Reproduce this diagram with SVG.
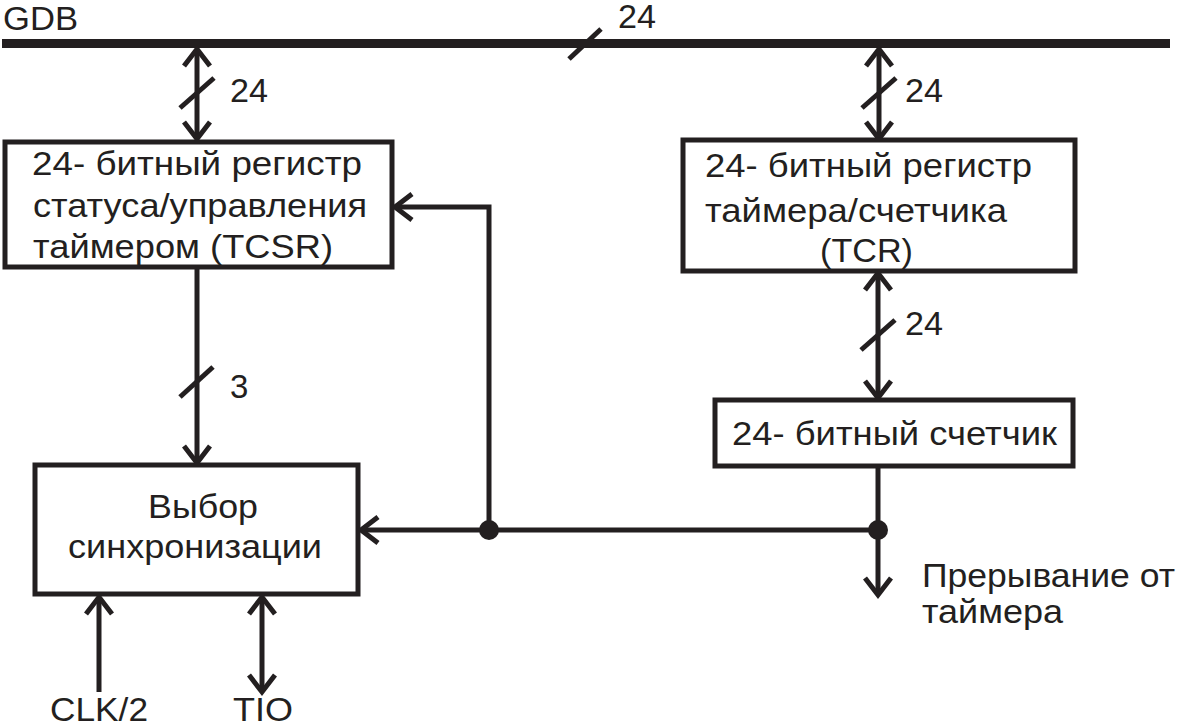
<svg xmlns="http://www.w3.org/2000/svg" width="1181" height="726" viewBox="0 0 1181 726">
<style>
.box{fill:#fff;stroke:#231f20;stroke-width:5}
.ln{fill:none;stroke:#231f20;stroke-width:5}
.t{font-family:"Liberation Sans",Arial,sans-serif;font-size:33px;fill:#231f20}
</style>
<defs>
<marker id="ah" markerUnits="userSpaceOnUse" viewBox="-22 -16 26 32" refX="0" refY="0" markerWidth="26" markerHeight="32" orient="auto-start-reverse" overflow="visible">
<path d="M-17,-13 L0,0 L-17,13" fill="none" stroke="#231f20" stroke-width="5"/>
</marker>
</defs>
<rect width="1181" height="726" fill="#fff"/>
<g id="gdb">
<line x1="2" y1="43.5" x2="1170" y2="43.5" stroke="#231f20" stroke-width="9"/>
<text class="t" x="3" y="30" textLength="75" lengthAdjust="spacingAndGlyphs">GDB</text>
<line class="ln" x1="569" y1="59" x2="601" y2="29"/>
<text class="t" x="618" y="28" font-size="31" textLength="38" lengthAdjust="spacingAndGlyphs">24</text>
</g>
<g id="connectors">
<line class="ln" x1="197" y1="49" x2="197" y2="139" marker-start="url(#ah)" marker-end="url(#ah)"/>
<line class="ln" x1="180" y1="108" x2="214" y2="78"/>
<text class="t" x="230" y="102" textLength="38" lengthAdjust="spacingAndGlyphs">24</text>
<line class="ln" x1="879" y1="49" x2="879" y2="139" marker-start="url(#ah)" marker-end="url(#ah)"/>
<line class="ln" x1="862" y1="108" x2="896" y2="78"/>
<text class="t" x="905" y="102" textLength="38" lengthAdjust="spacingAndGlyphs">24</text>
<line class="ln" x1="878" y1="273" x2="878" y2="398" marker-start="url(#ah)" marker-end="url(#ah)"/>
<line class="ln" x1="861" y1="350" x2="895" y2="320"/>
<text class="t" x="905" y="335" textLength="38" lengthAdjust="spacingAndGlyphs">24</text>
<line class="ln" x1="197" y1="268" x2="197" y2="463" marker-end="url(#ah)"/>
<line class="ln" x1="180" y1="397" x2="213" y2="367"/>
<text class="t" x="230" y="398">3</text>
<line class="ln" x1="878" y1="467" x2="878" y2="595" marker-end="url(#ah)"/>
<polyline class="ln" points="878,530 361,530" marker-end="url(#ah)"/>
<polyline class="ln" points="489,530 489,207 395,207" marker-end="url(#ah)"/>
<circle cx="489" cy="530" r="10" fill="#231f20"/>
<circle cx="878" cy="530" r="10" fill="#231f20"/>
<line class="ln" x1="99" y1="692" x2="99" y2="597" marker-end="url(#ah)"/>
<line class="ln" x1="262" y1="597" x2="262" y2="692" marker-start="url(#ah)" marker-end="url(#ah)"/>
<text class="t" x="922" y="587" textLength="253" lengthAdjust="spacingAndGlyphs">Прерывание от</text>
<text class="t" x="922" y="623" textLength="141" lengthAdjust="spacingAndGlyphs">таймера</text>
<text class="t" x="50" y="721" textLength="98" lengthAdjust="spacingAndGlyphs">CLK/2</text>
<text class="t" x="233" y="721" textLength="60" lengthAdjust="spacingAndGlyphs">TIO</text>
</g>
<g id="tcsr">
<rect class="box" x="5" y="142" width="387" height="125"/>
<text class="t" x="32" y="175" textLength="330" lengthAdjust="spacingAndGlyphs">24- битный регистр</text>
<text class="t" x="33" y="217" textLength="334" lengthAdjust="spacingAndGlyphs">статуса/управления</text>
<text class="t" x="33" y="258" textLength="300" lengthAdjust="spacingAndGlyphs">таймером (TCSR)</text>
</g>
<g id="tcr">
<rect class="box" x="683" y="140" width="392" height="131"/>
<text class="t" x="705" y="177" textLength="327" lengthAdjust="spacingAndGlyphs">24- битный регистр</text>
<text class="t" x="705" y="222" textLength="302" lengthAdjust="spacingAndGlyphs">таймера/счетчика</text>
<text class="t" x="820" y="262" textLength="93" lengthAdjust="spacingAndGlyphs">(TCR)</text>
</g>
<g id="counter">
<rect class="box" x="715" y="400" width="358" height="66"/>
<text class="t" x="732" y="445" textLength="325" lengthAdjust="spacingAndGlyphs">24- битный счетчик</text>
</g>
<g id="sync">
<rect class="box" x="35" y="465" width="323" height="129"/>
<text class="t" x="148" y="518" textLength="110" lengthAdjust="spacingAndGlyphs">Выбор</text>
<text class="t" x="68" y="558" textLength="254" lengthAdjust="spacingAndGlyphs">синхронизации</text>
</g>
</svg>
